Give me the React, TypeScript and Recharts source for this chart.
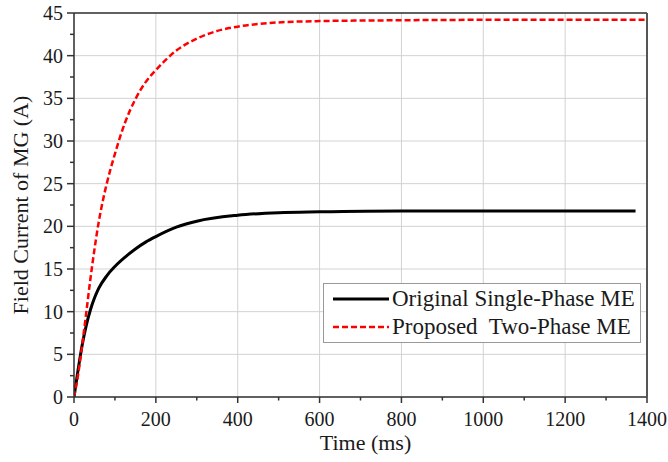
import React from "react";
import {
  LineChart,
  Line,
  XAxis,
  YAxis,
  CartesianGrid,
  Legend,
} from "recharts";

// Original single-phase ME (black solid)
const TIME_SINGLE = [0, 10, 20, 30, 40, 50, 60, 80, 100, 125, 150, 175, 200, 250, 300, 400, 500, 600, 800, 1000, 1200, 1372];
const CURRENT_SINGLE = [0, 3.2, 6.1, 8.4, 10.2, 11.6, 12.7, 14.2, 15.3, 16.4, 17.35, 18.15, 18.8, 19.9, 20.6, 21.3, 21.6, 21.7, 21.8, 21.8, 21.8, 21.8];

// Proposed two-phase ME (red dashed)
const TIME_TWO = [0, 10, 20, 30, 40, 50, 60, 70, 80, 100, 125, 150, 175, 200, 250, 300, 350, 400, 500, 600, 800, 1000, 1200, 1400];
const CURRENT_TWO = [0, 2.6, 6.1, 9.9, 13.8, 17.3, 20.4, 22.9, 25.0, 28.5, 32.2, 34.9, 36.9, 38.3, 40.6, 42.0, 42.9, 43.4, 43.9, 44.05, 44.15, 44.2, 44.2, 44.2];

const X_MAJOR = [0, 200, 400, 600, 800, 1000, 1200, 1400];
const X_ALL = [0, 100, 200, 300, 400, 500, 600, 700, 800, 900, 1000, 1100, 1200, 1300, 1400];
const Y_MAJOR = [0, 5, 10, 15, 20, 25, 30, 35, 40, 45];
const Y_ALL = [0, 2.5, 5, 7.5, 10, 12.5, 15, 17.5, 20, 22.5, 25, 27.5, 30, 32.5, 35, 37.5, 40, 42.5, 45];

const singleData = TIME_SINGLE.map((t, i) => ({ t, v: CURRENT_SINGLE[i] }));
const twoData = TIME_TWO.map((t, i) => ({ t, v: CURRENT_TWO[i] }));

const FONT = "'Liberation Serif', 'Times New Roman', serif";
const AXIS = "#333";
const TEXT = "#1a1a1a";

const isMajorX = (v: number) => v % 200 === 0;
const isMajorY = (v: number) => v % 5 === 0;

const BottomTick = (props: any) => {
  const { x, y, payload } = props;
  const major = isMajorX(payload.value);
  return (
    <g>
      <line x1={x} x2={x} y1={y} y2={y + (major ? 6 : 3.5)} stroke={AXIS} strokeWidth={1.5} />
      {major && (
        <text x={x} y={y + 29} textAnchor="middle" fontFamily={FONT} fontSize={20} fill={TEXT}>
          {payload.value}
        </text>
      )}
    </g>
  );
};

const TopTick = (props: any) => {
  const { x, y, payload } = props;
  const major = isMajorX(payload.value);
  return <line x1={x} x2={x} y1={y} y2={y - (major ? 7 : 4)} stroke={AXIS} strokeWidth={1.5} />;
};

const LeftTick = (props: any) => {
  const { x, y, payload } = props;
  const major = isMajorY(payload.value);
  return (
    <g>
      <line x1={x} x2={x - (major ? 7 : 4)} y1={y} y2={y} stroke={AXIS} strokeWidth={1.5} />
      {major && (
        <text x={x - 11} y={y + 7} textAnchor="end" fontFamily={FONT} fontSize={20} fill={TEXT}>
          {payload.value}
        </text>
      )}
    </g>
  );
};

const YTitle = (props: any) => {
  const { x, y, height } = props.viewBox;
  const cx = x + 20;
  const cy = y + height / 2;
  return (
    <text
      x={cx}
      y={cy}
      transform={`rotate(-90 ${cx} ${cy})`}
      textAnchor="middle"
      dominantBaseline="central"
      fontFamily={FONT}
      fontSize={22}
      fill={TEXT}
    >
      Field Current of MG (A)
    </text>
  );
};

const XTitle = (props: any) => {
  const { x, y, width } = props.viewBox;
  return (
    <text x={x + width / 2 + 5} y={y + 53} textAnchor="middle" fontFamily={FONT} fontSize={22} fill={TEXT}>
      Time (ms)
    </text>
  );
};

const LegendBox = (props: any) => {
  const { payload } = props;
  return (
    <div
      style={{
        border: "1px solid #999",
        background: "#fff",
        padding: "1px 0 1px 9px",
        fontFamily: FONT,
        fontSize: 23,
        color: TEXT,
      }}
    >
      {(payload || []).map((entry: any) => (
        <div key={entry.value} style={{ display: "flex", alignItems: "center", height: 28 }}>
          <svg width={56} height={10} style={{ marginRight: 3 }}>
            <line
              x1={0}
              x2={56}
              y1={5}
              y2={5}
              stroke={entry.color}
              strokeWidth={entry.payload?.strokeWidth ?? 2.5}
              strokeDasharray={entry.payload?.strokeDasharray}
            />
          </svg>
          <span style={{ whiteSpace: "pre" }}>{entry.value}</span>
        </div>
      ))}
    </div>
  );
};

export default function App() {
  return (
    <div style={{ position: "absolute", left: 0, top: 0, background: "#fff" }}>
      <LineChart width={668} height={462} margin={{ top: 3, right: 20, bottom: 0, left: 0 }}>
        <CartesianGrid stroke="#d2d2d2" strokeWidth={1} verticalValues={X_MAJOR} horizontalValues={Y_MAJOR} />
        <XAxis
          dataKey="t"
          type="number"
          domain={[0, 1400]}
          ticks={X_ALL}
          interval={0}
          height={65}
          tickSize={0}
          tickMargin={0}
          tickLine={false}
          tick={BottomTick}
          axisLine={{ stroke: AXIS, strokeWidth: 1.5 }}
          allowDataOverflow
          label={<XTitle />}
        />
        <XAxis
          xAxisId="top"
          orientation="top"
          dataKey="t"
          type="number"
          domain={[0, 1400]}
          ticks={X_ALL}
          interval={0}
          height={10}
          tickSize={0}
          tickMargin={0}
          tickLine={false}
          tick={TopTick}
          axisLine={{ stroke: AXIS, strokeWidth: 1.5 }}
        />
        <YAxis
          type="number"
          domain={[0, 45]}
          ticks={Y_ALL}
          interval={0}
          width={74}
          tickSize={0}
          tickMargin={0}
          tickLine={false}
          tick={LeftTick}
          axisLine={{ stroke: AXIS, strokeWidth: 1.5 }}
          allowDataOverflow
          label={<YTitle />}
        />
        <YAxis
          yAxisId="right"
          orientation="right"
          type="number"
          domain={[0, 45]}
          ticks={Y_MAJOR}
          width={1}
          tick={false}
          tickLine={false}
          axisLine={{ stroke: "#555", strokeWidth: 2 }}
        />
        <Legend
          layout="vertical"
          align="center"
          verticalAlign="middle"
          content={<LegendBox />}
          wrapperStyle={{ left: 323, top: 283, width: 318 }}
        />
        <Line
          data={singleData}
          dataKey="v"
          name="Original Single-Phase ME"
          type="monotone"
          stroke="#000"
          strokeWidth={3}
          dot={false}
          isAnimationActive={false}
        />
        <Line
          data={twoData}
          dataKey="v"
          name="Proposed  Two-Phase ME"
          type="monotone"
          stroke="#ff0000"
          strokeWidth={2.5}
          strokeDasharray="6 3"
          dot={false}
          isAnimationActive={false}
        />
      </LineChart>
    </div>
  );
}
